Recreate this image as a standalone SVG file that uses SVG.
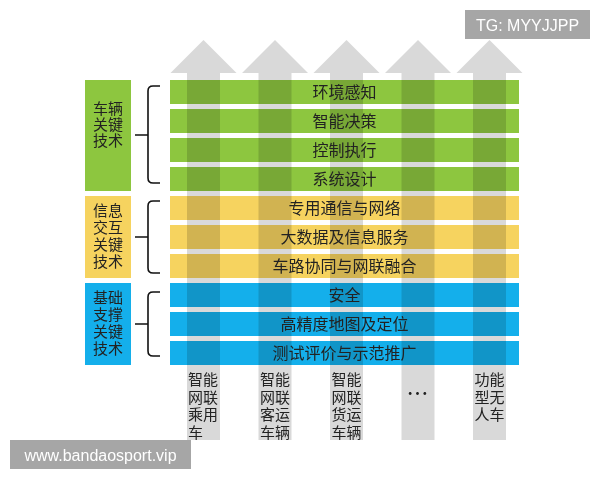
<svg xmlns="http://www.w3.org/2000/svg" width="600" height="480" viewBox="0 0 600 480">
<defs>
<style>
.arrow{fill:#d9d9d9}
.bar{mix-blend-mode:multiply}
.g{fill:#8dc63f}
.y{fill:#f6d35f}
.b{fill:#14afeb}
.bt{font-family:"Noto Sans CJK SC","Noto Sans",sans-serif;font-size:16px;fill:#222;text-anchor:middle}
.lt{font-family:"Noto Sans CJK SC","Noto Sans",sans-serif;font-size:15px;fill:#222;text-anchor:middle}
.br{fill:none;stroke:#111;stroke-width:1.6}
.wm{fill:#a6a6a6}
.wt{font-family:"Liberation Sans",Arial,sans-serif;font-size:16px;fill:#fff;text-anchor:middle}
</style>
</defs>
<rect width="600" height="480" fill="#fff"/>
<g id="connectors">
<polygon class="arrow" points="203.5,40 236.5,73 220,73 220,440 187,440 187,73 170.5,73"/>
<polygon class="arrow" points="275,40 308,73 291.5,73 291.5,440 258.5,440 258.5,73 242,73"/>
<polygon class="arrow" points="346.5,40 379.5,73 363,73 363,440 330,440 330,73 313.5,73"/>
<polygon class="arrow" points="418,40 451,73 434.5,73 434.5,440 401.5,440 401.5,73 385,73"/>
<polygon class="arrow" points="489.5,40 522.5,73 506,73 506,440 473,440 473,73 456.5,73"/>
<path class="br" d="M160 86 L153 86 Q148 86 148 91 L148 178 Q148 183 153 183 L160 183 M135 135 L148 135"/>
<path class="br" d="M160 201 L153 201 Q148 201 148 206 L148 268 Q148 273 153 273 L160 273 M135 237 L148 237"/>
<path class="br" d="M160 292 L153 292 Q148 292 148 297 L148 351 Q148 356 153 356 L160 356 M135 324 L148 324"/>
</g>
<g id="cat-vehicle">
<rect class="g" x="85" y="80" width="46" height="111"/>
<text class="lt" x="108" y="114">车辆<tspan x="108" dy="16">关键</tspan><tspan x="108" dy="16">技术</tspan></text>
</g>
<g id="cat-info">
<rect class="y" x="85" y="196" width="46" height="82"/>
<text class="lt" x="108" y="216">信息<tspan x="108" dy="17">交互</tspan><tspan x="108" dy="17">关键</tspan><tspan x="108" dy="17">技术</tspan></text>
</g>
<g id="cat-base">
<rect class="b" x="85" y="283" width="46" height="82"/>
<text class="lt" x="108" y="303">基础<tspan x="108" dy="17">支撑</tspan><tspan x="108" dy="17">关键</tspan><tspan x="108" dy="17">技术</tspan></text>
</g>
<g id="bar-1"><rect class="bar g" x="170" y="80" width="349" height="24"/><text class="bt" x="344.5" y="97.5">环境感知</text></g>
<g id="bar-2"><rect class="bar g" x="170" y="109" width="349" height="24"/><text class="bt" x="344.5" y="126.5">智能决策</text></g>
<g id="bar-3"><rect class="bar g" x="170" y="138" width="349" height="24"/><text class="bt" x="344.5" y="155.5">控制执行</text></g>
<g id="bar-4"><rect class="bar g" x="170" y="167" width="349" height="24"/><text class="bt" x="344.5" y="184.5">系统设计</text></g>
<g id="bar-5"><rect class="bar y" x="170" y="196" width="349" height="24"/><text class="bt" x="344.5" y="213.5">专用通信与网络</text></g>
<g id="bar-6"><rect class="bar y" x="170" y="225" width="349" height="24"/><text class="bt" x="344.5" y="242.5">大数据及信息服务</text></g>
<g id="bar-7"><rect class="bar y" x="170" y="254" width="349" height="24"/><text class="bt" x="344.5" y="271.5">车路协同与网联融合</text></g>
<g id="bar-8"><rect class="bar b" x="170" y="283" width="349" height="24"/><text class="bt" x="344.5" y="300.5">安全</text></g>
<g id="bar-9"><rect class="bar b" x="170" y="312" width="349" height="24"/><text class="bt" x="344.5" y="329.5">高精度地图及定位</text></g>
<g id="bar-10"><rect class="bar b" x="170" y="341" width="349" height="24"/><text class="bt" x="344.5" y="358.5">测试评价与示范推广</text></g>
<g id="app-1">
<text class="lt" x="203" y="385">智能<tspan x="203" dy="17.5">网联</tspan><tspan x="203" dy="17.5">乘用</tspan><tspan x="195.5" dy="17.5">车</tspan></text>
</g>
<g id="app-2">
<text class="lt" x="275" y="385">智能<tspan x="275" dy="17.5">网联</tspan><tspan x="275" dy="17.5">客运</tspan><tspan x="275" dy="17.5">车辆</tspan></text>
</g>
<g id="app-3">
<text class="lt" x="346.5" y="385">智能<tspan x="346.5" dy="17.5">网联</tspan><tspan x="346.5" dy="17.5">货运</tspan><tspan x="346.5" dy="17.5">车辆</tspan></text>
</g>
<g id="app-4">
<text class="lt" x="417.5" y="401" style="font-size:22px">…</text>
</g>
<g id="app-5">
<text class="lt" x="489.5" y="385">功能<tspan x="489.5" dy="17.5">型无</tspan><tspan x="489.5" dy="17.5">人车</tspan></text>
</g>
<g id="watermark-top">
<rect class="wm" x="465" y="10" width="125" height="29"/>
<text class="wt" x="527.5" y="31">TG: MYYJJPP</text>
</g>
<g id="watermark-bottom">
<rect class="wm" x="10" y="440" width="181" height="29"/>
<text class="wt" x="100.5" y="460.5">www.bandaosport.vip</text>
</g>
</svg>
